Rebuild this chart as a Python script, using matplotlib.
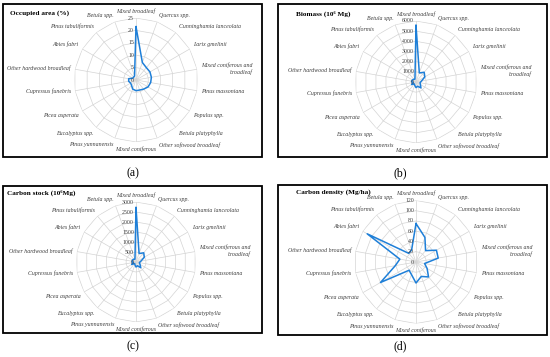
import numpy as np
import matplotlib.pyplot as plt
from matplotlib.patches import Rectangle
from matplotlib.transforms import offset_copy

species = ["Mixed broadleaf", "Quercus spp.", "Cunninghamia lanceolata", "Larix gmelinii",
           "Mixed coniferous and\nbroadleaf", "Pinus massoniana", "Populus spp.",
           "Betula platyphylla", "Other softwood broadleaf", "Mixed coniferous",
           "Pinus yunnanensis", "Eucalyptus spp.", "Picea asperata", "Cupressus funebris",
           "Other hardwood broadleaf", "Abies fabri", "Pinus tabuliformis", "Betula spp."]

area = [21.5, 7.5, 6.5, 6.5, 6.3, 6.0, 5.6, 4.8, 4.3, 4.3, 3.9, 2.8, 2.5, 3.0, 3.0, 1.5, 1.5, 1.7]
biomass = [5560, 950, 1250, 1000, 550, 400, 500, 750, 450, 550, 350, 250, 500, 300, 450, 400, 350, 300]
stock = [2720, 450, 600, 480, 250, 170, 230, 370, 200, 250, 150, 100, 250, 150, 200, 200, 180, 150]
density = [75, 51, 29, 46, 44, 17, 25, 38, 30, 41, 26, 21, 80, 41, 32, 110, 22, 25]

titles = ["Occupied area (%)", "Biomass (10\u2076 Mg)", "Carbon stock (10\u2076Mg)", "Carbon density (Mg/ha)"]
letters = ["(a)", "(b)", "(c)", "(d)"]
ticks = [range(0, 30, 5), range(0, 7000, 1000), range(0, 3500, 500), range(0, 140, 20)]

W, H = 550, 357
fig = plt.figure(figsize=(5.5, 3.57), dpi=100)

def fx(x):
    return x / W

def fy(y):
    return 1 - y / H

# panel layout in pixels: box (x0, y0, x1, y1), chart centre, radius, title pos, letter pos
panels = [
    dict(box=(3, 4, 262, 157), c=(136, 80), R=62, title=(10, 13), letter=(133, 173)),
    dict(box=(278, 4, 547, 157), c=(416, 82), R=61, title=(296, 14), letter=(400, 173)),
    dict(box=(3, 186, 262, 333), c=(136, 262), R=60, title=(7, 193), letter=(133, 346)),
    dict(box=(278, 185, 547, 335), c=(416, 262), R=61.5, title=(296, 192), letter=(400, 346)),
]

serif = "Liberation Serif"
blue = "#1E7FD8"
grid = "#D4D4D4"
theta = np.deg2rad(np.arange(len(species)) * 20)
tclosed = np.append(theta, theta[0])

for p, vals, tk, title, letter in zip(panels, [area, biomass, stock, density], ticks, titles, letters):
    x0, y0, x1, y1 = p["box"]
    fig.add_artist(Rectangle((fx(x0), fy(y1)), fx(x1 - x0), (y1 - y0) / H,
                             transform=fig.transFigure, fill=False, ec="black", lw=1.3))
    fig.text(fx(p["title"][0]), fy(p["title"][1]), title, family=serif, weight="bold",
             fontsize=5.2, ha="left", va="center")
    fig.text(fx(p["letter"][0]), fy(p["letter"][1]), letter, family=serif,
             fontsize=8.5, ha="center", va="center")

    cx, cy = p["c"]
    R = p["R"]
    ax = fig.add_axes([fx(cx - R), fy(cy + R), 2 * R / W, 2 * R / H], projection="polar")
    ax.set_theta_zero_location("N")
    ax.set_theta_direction(-1)
    rmax = max(tk)
    ax.set_ylim(0, rmax)
    ax.axis("off")

    for r in list(tk)[1:]:
        ax.plot(tclosed, [r] * len(tclosed), color=grid, lw=0.5)
    for t in theta:
        ax.plot([t, t], [0, rmax], color=grid, lw=0.5)

    ax.plot(tclosed, np.append(vals, vals[0]), color=blue, lw=1.1)

    lab_tr = offset_copy(ax.transData, fig=fig, x=-1.5, y=0, units="points")
    for r in tk:
        ax.text(0, r, str(r), transform=lab_tr, family=serif, fontsize=4.2,
                ha="right", va="center", color="#404040")

    for t, name in zip(theta, species):
        s, c = np.sin(t), np.cos(t)
        ha = "left" if s > 0.05 else ("right" if s < -0.05 else "center")
        va = "bottom" if c > 0.3 else ("top" if c < -0.3 else "center")
        tr = offset_copy(ax.transData, fig=fig, x=3 * s, y=3 * c, units="points")
        ax.text(t, rmax, name, transform=tr, family=serif, style="italic",
                fontsize=4.2, ha=ha, va=va, ma="right", color="#404040")

fig.savefig("out.png", dpi=100)
